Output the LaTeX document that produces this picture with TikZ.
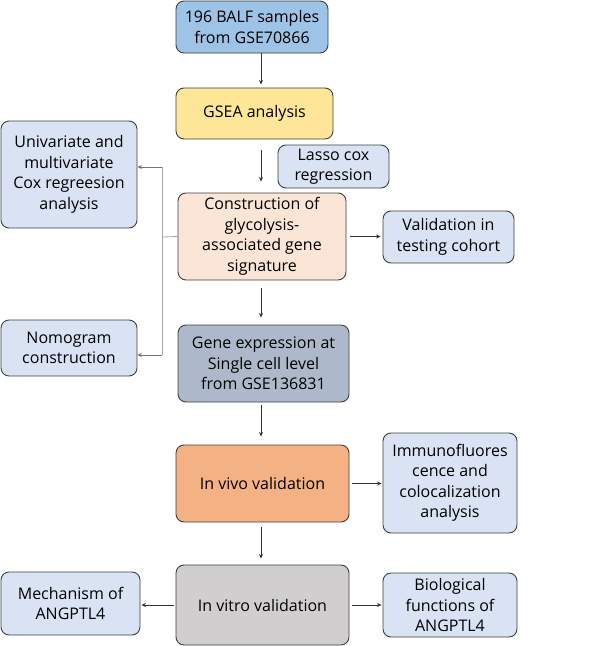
\documentclass[tikz,border=0pt]{standalone}
\usepackage{fontspec}
\setmainfont{Open Sans}
\usetikzlibrary{arrows.meta}
\definecolor{boxline}{HTML}{3F3F3F}
\definecolor{cBlue}{HTML}{9DC3E6}
\definecolor{cYellow}{HTML}{FFE699}
\definecolor{cPale}{HTML}{DAE3F3}
\definecolor{cPeach}{HTML}{FBE5D6}
\definecolor{cSlate}{HTML}{ADB9CA}
\definecolor{cOrange}{HTML}{F4B183}
\definecolor{cGrey}{HTML}{D0CECE}

\begin{document}
\begin{tikzpicture}[x=1pt,y=-1pt,
  box/.style={draw=boxline,line width=0.9pt,rounded corners=8pt,align=center,
    inner sep=0pt,font=\fontsize{16}{20.5}\selectfont},
  arr/.style={draw=black!80,line width=0.7pt,-{Stealth[length=4.5pt,width=4pt]}},
  link/.style={draw=black!35,line width=0.8pt}]
\useasboundingbox (0,0) rectangle (597,646);
\coordinate (spine) at (261,0);
\node[box,fill=cBlue,minimum width=152pt,minimum height=52pt] (samples) at (252,27) {196 BALF samples\\from GSE70866};
\node[box,fill=cYellow,minimum width=157pt,minimum height=51pt] (gsea) at (254.5,113.5) {GSEA analysis};
\node[box,fill=cPale,minimum width=111pt,minimum height=43pt] (lasso) at (333.5,166.5) {Lasso cox\\regression};
\node[box,fill=cPale,minimum width=136pt,minimum height=107pt] (cox) at (69,174.5) {Univariate and\\multivariate\\Cox regreesion\\analysis};
\node[box,fill=cPeach,minimum width=168pt,minimum height=87pt] (signature) at (262,236.5) {Construction of\\glycolysis-\\associated gene\\signature};
\node[box,fill=cPale,minimum width=131pt,minimum height=52pt] (testing) at (448.5,237) {Validation in\\testing cohort};
\node[box,fill=cPale,minimum width=136pt,minimum height=56pt] (nomogram) at (69,348) {Nomogram\\construction};
\node[box,fill=cSlate,minimum width=171pt,minimum height=77pt] (singlecell) at (263.5,363.5) {Gene expression at\\Single cell level\\from GSE136831};
\node[box,fill=cOrange,minimum width=173pt,minimum height=77pt] (invivo) at (262.5,483.5) {In vivo validation};
\node[box,fill=cPale,minimum width=134pt,minimum height=100pt] (immuno) at (450,483) {Immunofluores\\cence and\\colocalization\\analysis};
\node[box,fill=cGrey,minimum width=173pt,minimum height=80pt] (invitro) at (262.5,605) {In vitro validation};
\node[box,fill=cPale,minimum width=139pt,minimum height=63pt] (mechanism) at (70.5,603.5) {Mechanism of\\ANGPTL4};
\node[box,fill=cPale,minimum width=134pt,minimum height=64pt] (functions) at (450,605) {Biological\\functions of\\ANGPTL4};
% main column
\draw[arr,shorten >=3pt] (samples.south -| spine) -- (gsea.north -| spine);
\draw[arr,shorten <=11pt,shorten >=11pt] (gsea.south -| spine) -- (signature.north -| spine);
\draw[arr,shorten <=8pt,shorten >=7pt] (signature.south -| spine) -- (singlecell.north -| spine);
\draw[arr,shorten <=3pt,shorten >=8pt] (singlecell.south -| spine) -- (invivo.north -| spine);
\draw[arr,shorten <=5pt,shorten >=6pt] (invivo.south -| spine) -- (invitro.north -| spine);
% side branches
\draw[arr,shorten <=4pt,shorten >=2pt] (signature.east) -- (testing.west |- signature.east);
\draw[arr,shorten <=3pt,shorten >=1pt] (invivo.east) -- (immuno.west |- invivo.east);
\draw[arr,shorten <=3pt,shorten >=1pt] (invitro.east) -- (functions.west |- invitro.east);
\draw[arr,shorten <=2pt,shorten >=1pt] (invitro.west) -- (mechanism.east |- invitro.west);
% bracket to the left
\coordinate (fork) at (162,237);
\draw[link] (signature.west) -- (fork);
\draw[link] (162,167) -- (162,355);
\draw[arr,black!55] (162,167) -- (cox.east |- 0,167);
\draw[arr,black!55] (162,355) -- (nomogram.east |- 0,355);
\end{tikzpicture}
\end{document}
